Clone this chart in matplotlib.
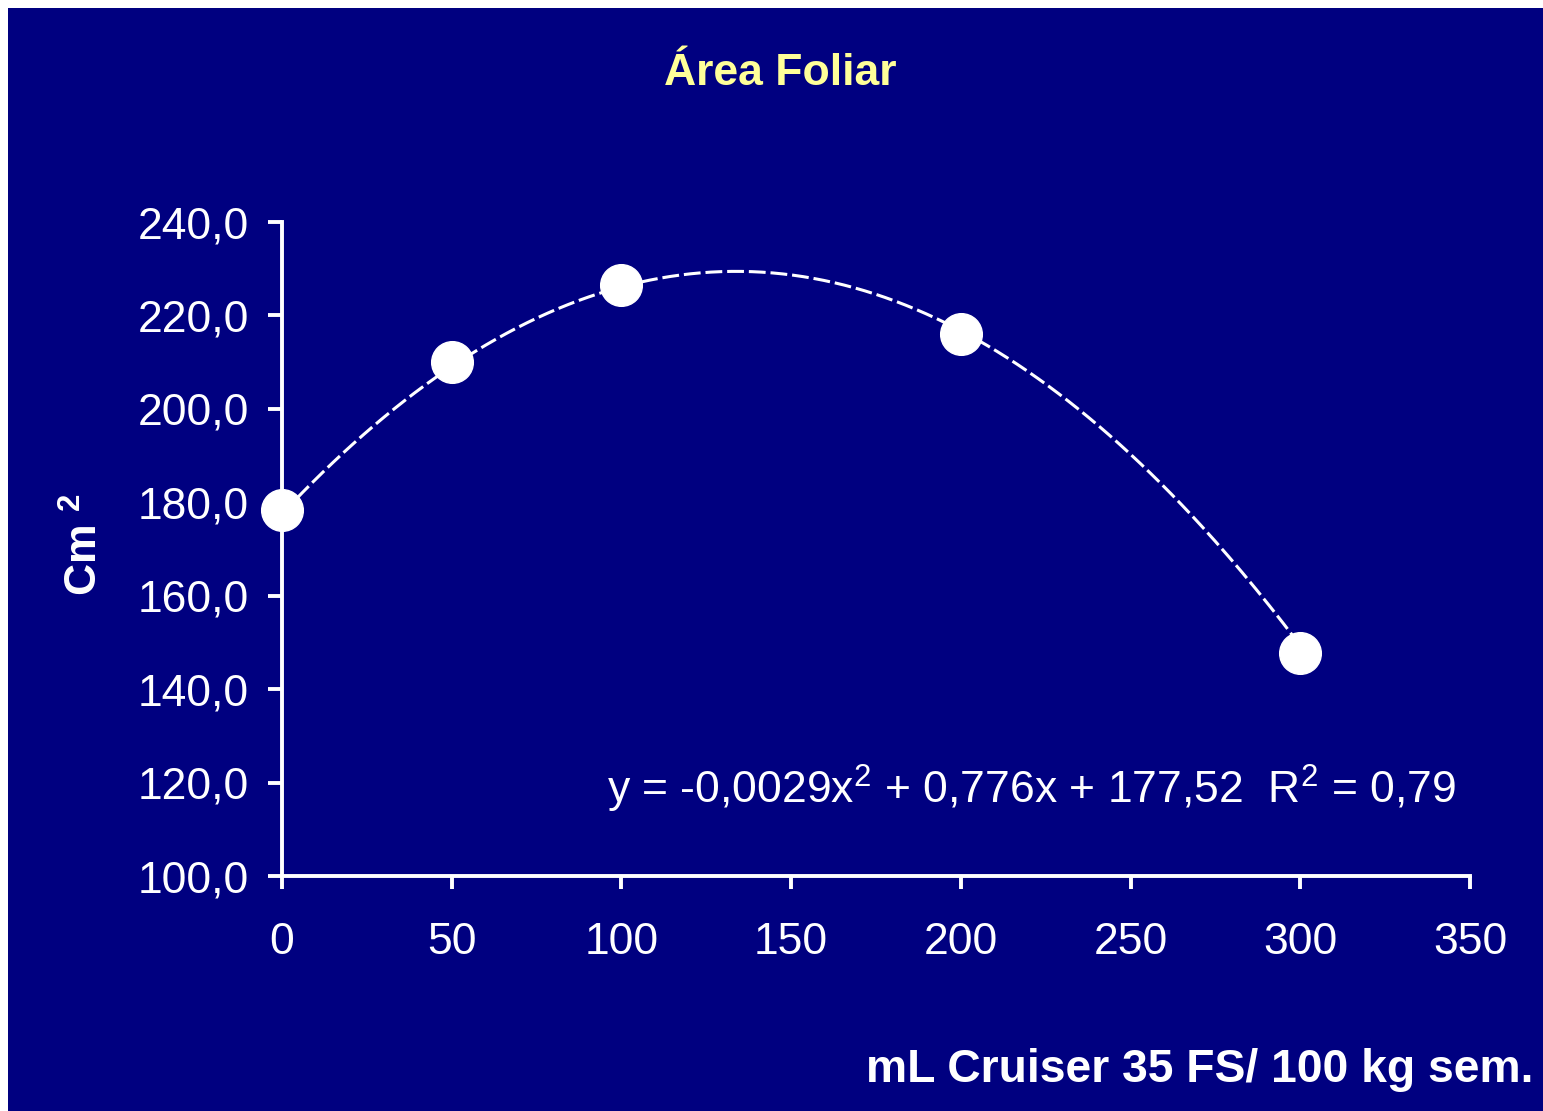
import numpy as np
import matplotlib
matplotlib.use("Agg")
import matplotlib.pyplot as plt

plt.rcParams['font.family'] = ['Liberation Sans', 'DejaVu Sans']
plt.rcParams['mathtext.fontset'] = 'custom'
plt.rcParams['mathtext.rm'] = 'Liberation Sans'
plt.rcParams['mathtext.it'] = 'Liberation Sans'
plt.rcParams['mathtext.bf'] = 'Liberation Sans:bold'

# ---- data ----
doses = [0, 50, 100, 200, 300]
area = [178.3, 210.0, 226.5, 216.0, 147.7]
fit_coefs = [-0.0029, 0.776, 177.52]   # from the equation shown on the chart
x_ticks = [0, 50, 100, 150, 200, 250, 300, 350]
y_ticks = [100, 120, 140, 160, 180, 200, 220, 240]
y_tick_labels = ["100,0", "120,0", "140,0", "160,0", "180,0", "200,0", "220,0", "240,0"]
title = "Área Foliar"
xlabel = "mL Cruiser 35 FS/ 100 kg sem."
ylabel = r"Cm $^{\mathbf{2}}$"
equation = r"y = -0,0029x$^{2}$ + 0,776x + 177,52  R$^{2}$ = 0,79"

NAVY = "#000080"
W, H = 1543, 1111
fig = plt.figure(figsize=(W / 100, H / 100), dpi=100, facecolor="white")

bg = fig.add_axes([8 / W, 0, 1 - 8 / W, (H - 8) / H], zorder=0)
bg.set_facecolor(NAVY)
bg.set_xticks([]); bg.set_yticks([])
for s in bg.spines.values():
    s.set_visible(False)

ax = fig.add_axes([282 / W, (H - 876) / H, (1470 - 282) / W, (876 - 222) / H], zorder=1)
ax.set_facecolor("none")

xs = np.linspace(min(doses), max(doses), 300)
ax.plot(xs, np.polyval(fit_coefs, xs), color="white", lw=2.2,
        linestyle=(0, (5.5, 1.6)), zorder=2, clip_on=False)
ax.plot(doses, area, "o", color="white", markersize=30, zorder=3, clip_on=False)

ax.set_xlim(0, 350)
ax.set_ylim(100, 240)
ax.set_xticks(x_ticks)
ax.set_xticklabels([str(v) for v in x_ticks])
ax.set_yticks(y_ticks)
ax.set_yticklabels(y_tick_labels)

for side in ["top", "right"]:
    ax.spines[side].set_visible(False)
for side in ["left", "bottom"]:
    ax.spines[side].set_color("white")
    ax.spines[side].set_linewidth(2.8)

ax.tick_params(axis="y", direction="out", length=10, width=2.8, colors="white",
               labelsize=32, pad=14)
ax.tick_params(axis="x", direction="out", length=9, width=2.8, colors="white",
               labelsize=32, pad=24)

ax.text(1032 / W, 1 - 804 / H, equation, transform=fig.transFigure, ha="center",
        va="baseline", color="white", fontsize=32)

fig.text(780 / W, 1 - 85 / H, title, ha="center", va="baseline", color="#FFFF99",
         fontsize=32, fontweight="bold")
fig.text(866 / W, 1 - 1082 / H, xlabel, ha="left", va="baseline", color="white",
         fontsize=33.3, fontweight="bold")
fig.text(85 / W, 1 - 545 / H, ylabel, ha="center", va="center", rotation=90,
         color="white", fontsize=32, fontweight="bold")

fig.savefig("out.png", dpi=100, facecolor=fig.get_facecolor())
